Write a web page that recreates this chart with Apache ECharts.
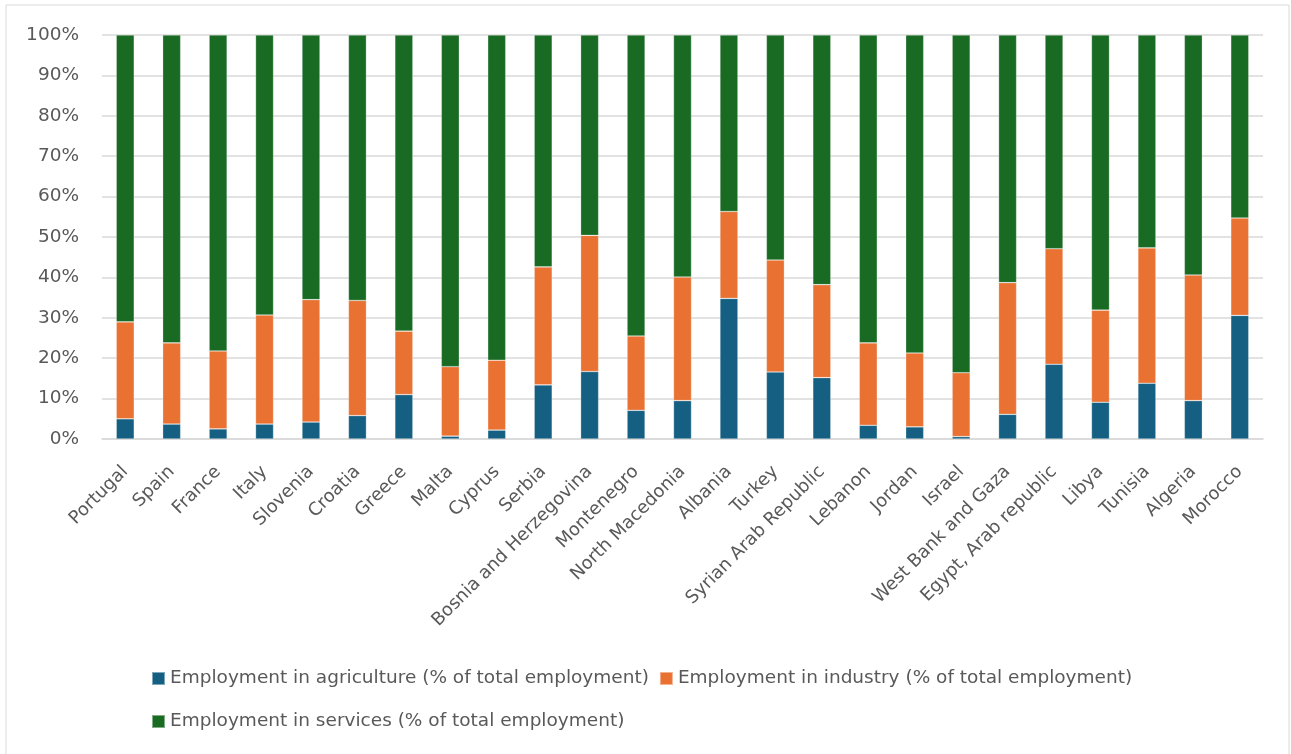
<!DOCTYPE html>
<html>
<head>
<meta charset="utf-8">
<script src="https://cdn.jsdelivr.net/npm/echarts@6/dist/echarts.min.js"></script>
<style>
  html, body { margin: 0; padding: 0; background: #ffffff; }
  #chart { width: 1291px; height: 754px; }
</style>
</head>
<body>
<div id="chart"></div>
<script>
// Employment structure by sector, Mediterranean countries (% of total employment)
const countries = [
  'Portugal', 'Spain', 'France', 'Italy', 'Slovenia', 'Croatia', 'Greece', 'Malta',
  'Cyprus', 'Serbia', 'Bosnia and Herzegovina', 'Montenegro', 'North Macedonia',
  'Albania', 'Turkey', 'Syrian Arab Republic', 'Lebanon', 'Jordan', 'Israel',
  'West Bank and Gaza', 'Egypt, Arab republic', 'Libya', 'Tunisia', 'Algeria', 'Morocco'
];

const agriculture = [
  5.0, 3.7, 2.5, 3.7, 4.2, 5.8, 11.0, 0.7,
  2.2, 13.4, 16.7, 7.1, 9.5,
  34.8, 16.6, 15.2, 3.4, 3.0, 0.6,
  6.1, 18.5, 9.1, 13.8, 9.5, 30.6
];

const industry = [
  24.0, 20.1, 19.3, 27.0, 30.3, 28.5, 15.7, 17.2,
  17.3, 29.2, 33.7, 18.4, 30.6,
  21.5, 27.7, 23.0, 20.4, 18.3, 15.8,
  32.6, 28.6, 22.8, 33.5, 31.1, 24.1
];

const services = [
  71.0, 76.2, 78.2, 69.3, 65.5, 65.7, 73.3, 82.1,
  80.5, 57.4, 49.6, 74.5, 59.9,
  43.7, 55.7, 61.8, 76.2, 78.7, 83.6,
  61.3, 52.9, 68.1, 52.7, 59.4, 45.3
];

const yTicks = [0, 10, 20, 30, 40, 50, 60, 70, 80, 90, 100];

const seriesNames = [
  'Employment in agriculture (% of total employment)',
  'Employment in industry (% of total employment)',
  'Employment in services (% of total employment)'
];
const seriesColors = ['#156082', '#E97132', '#196B24'];
const seriesValues = [agriculture, industry, services];

const textColor = '#595959';
const fontFamily = "'DejaVu Sans', 'Liberation Sans', sans-serif";

const chart = echarts.init(document.getElementById('chart'), null, { renderer: 'canvas' });

const legendText = { color: textColor, fontSize: 18.5, fontFamily: fontFamily };

const option = {
  backgroundColor: '#ffffff',
  animation: false,
  textStyle: { fontFamily: fontFamily },
  graphic: [{
    type: 'rect',
    shape: { x: 6, y: 5, width: 1283, height: 760 },
    style: { fill: 'none', stroke: '#d9d9d9', lineWidth: 1 },
    silent: true,
    z: -10
  }],
  grid: { left: 102, right: 28, top: 35, bottom: 315, containLabel: false },
  legend: [
    {
      data: [seriesNames[0], seriesNames[1]],
      left: 146, top: 664,
      itemWidth: 13, itemHeight: 13, itemGap: 10,
      icon: 'rect',
      textStyle: legendText
    },
    {
      data: [seriesNames[2]],
      left: 146, top: 707,
      itemWidth: 13, itemHeight: 13, itemGap: 10,
      icon: 'rect',
      textStyle: legendText
    }
  ],
  xAxis: {
    type: 'category',
    data: countries,
    axisLine: { show: true, lineStyle: { color: '#d9d9d9', width: 1.5 } },
    axisTick: { show: false },
    axisLabel: {
      rotate: 45,
      interval: 0,
      margin: 30,
      color: textColor,
      fontSize: 18,
      fontFamily: fontFamily
    }
  },
  yAxis: {
    type: 'value',
    min: yTicks[0],
    max: yTicks[yTicks.length - 1],
    interval: yTicks[1] - yTicks[0],
    axisLine: { show: false },
    axisTick: { show: false },
    splitLine: { lineStyle: { color: '#d9d9d9', width: 1.5 } },
    axisLabel: {
      margin: 23,
      color: textColor,
      fontSize: 18.5,
      fontFamily: fontFamily,
      formatter: v => v + '%'
    }
  },
  series: seriesNames.map((name, i) => ({
    name: name,
    type: 'bar',
    stack: 'total',
    barWidth: 18,
    data: seriesValues[i],
    itemStyle: {
      color: seriesColors[i],
      borderColor: 'rgba(255,255,255,0.45)',
      borderWidth: 0.6
    },
    emphasis: { disabled: true }
  }))
};

chart.setOption(option);
</script>
</body>
</html>
